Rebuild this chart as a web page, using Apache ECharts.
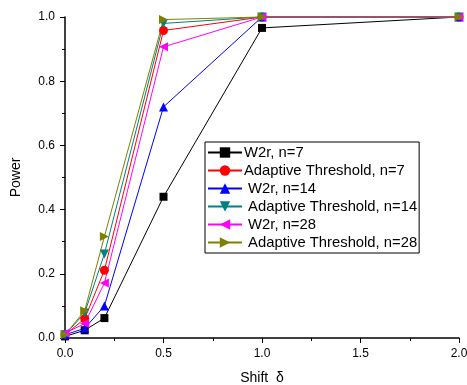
<!DOCTYPE html>
<html><head><meta charset="utf-8">
<script src="https://cdn.jsdelivr.net/npm/echarts@6/dist/echarts.min.js"></script>
<style>html,body{margin:0;padding:0;background:#fff}#c{width:467px;height:385px}</style>
</head><body><div id="c"></div>
<script>
var shifts = [0, 0.1, 0.2, 0.5, 1.0, 2.0];
var w2r7  = [0.005, 0.024, 0.062, 0.44, 0.966, 1.0];
var at7   = [0.01, 0.06, 0.211, 0.958, 1.0, 1.0];
var w2r14 = [0.01, 0.03, 0.10, 0.72, 1.0, 1.0];
var at14  = [0.01, 0.078, 0.262, 0.98, 1.0, 1.0];
var w2r28 = [0.015, 0.045, 0.171, 0.907, 1.0, 1.0];
var at28  = [0.01, 0.085, 0.316, 0.992, 1.0, 1.0];
var seriesNames = ['W2r, n=7', 'Adaptive Threshold, n=7', '\u00a0W2r, n=14', '\u00a0Adaptive Threshold, n=14', '\u00a0W2r, n=28', '\u00a0Adaptive Threshold, n=28'];
var xTicks = ['0.0','0.5','1.0','1.5','2.0'];
var yTicks = ['0.0','0.2','0.4','0.6','0.8','1.0'];

var vals = [w2r7, at7, w2r14, at14, w2r28, at28];
var colors = ['#000000','#ff0000','#0000ff','#008080','#ff00ff','#808000'];
var symbols = ['rect','circle','triangle','triangle','triangle','triangle'];
var rots = [0,0,0,180,90,-90];
var sizes = [8,9,9,9,9,9];

var font = 'Liberation Sans, Arial, sans-serif';
var series = vals.map(function(v,i){
  return {
    name: seriesNames[i], type:'line', clip:false,
    data: shifts.map(function(x,j){return [x, v[j]];}),
    symbol: symbols[i], symbolSize: sizes[i], symbolRotate: rots[i],
    showAllSymbol: true,
    lineStyle:{color:colors[i], width:1},
    itemStyle:{color:colors[i]},
    emphasis:{disabled:true}, animation:false
  };
});

var chart = echarts.init(document.getElementById('c'), null, {renderer:'canvas'});
chart.setOption({
  animation:false,
  backgroundColor:'#fff',
  textStyle:{fontFamily:font},
  grid:{left:65, top:17, right:8, bottom:47, containLabel:false, outerBoundsMode:'none'},
  legend:{
    orient:'vertical', left:205, top:142,
    backgroundColor:'#fff', borderColor:'#000', borderWidth:1,
    padding:[3,2,3,2], itemGap:3, itemWidth:34, itemHeight:13,
    textStyle:{fontSize:14.8, color:'#000', fontFamily:font, padding:[0,0,0,-3]},
    data: seriesNames
  },
  xAxis:{
    type:'value', min:0, max:2, interval:0.5,
    name:'Shift  δ', nameLocation:'middle', nameGap:33,
    nameTextStyle:{fontSize:14, color:'#000', fontFamily:font},
    axisLine:{lineStyle:{color:'#000', width:1.5}},
    axisTick:{show:true, inside:false, length:5, lineStyle:{color:'#000'}},
    minorTick:{show:true, splitNumber:2, length:3, lineStyle:{color:'#000'}},
    splitLine:{show:false},
    axisLabel:{fontSize:12, color:'#000', margin:10, fontFamily:font,
      formatter:function(v){return xTicks[Math.round(v/0.5)];}}
  },
  yAxis:{
    type:'value', min:0, max:1, interval:0.2,
    name:'Power', nameLocation:'middle', nameGap:42, nameRotate:90,
    nameTextStyle:{fontSize:14, color:'#000', fontFamily:font},
    axisLine:{show:true, lineStyle:{color:'#000', width:1.5}},
    axisTick:{show:true, inside:false, length:5, lineStyle:{color:'#000'}},
    minorTick:{show:true, splitNumber:2, length:3, lineStyle:{color:'#000'}},
    splitLine:{show:false},
    axisLabel:{fontSize:12, color:'#000', margin:10, fontFamily:font,
      formatter:function(v){return yTicks[Math.round(v/0.2)];}}
  },
  series: series
});
</script></body></html>
